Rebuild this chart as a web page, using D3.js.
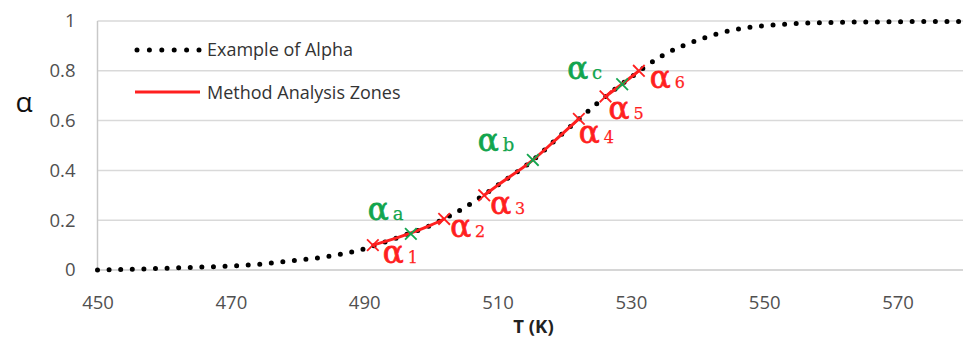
<!DOCTYPE html>
<html>
<head>
<meta charset="utf-8">
<script src="https://cdn.jsdelivr.net/npm/d3@7"></script>
<style>
  html, body { margin: 0; padding: 0; background: #fff; }
  svg { display: block; }
</style>
</head>
<body>
<svg id="chart" width="963" height="341"></svg>
<script>
// Conversion curve alpha(T)
const temps  = [450, 455, 460, 465, 470, 475, 480, 485, 490, 495, 500, 505, 510, 515, 520, 525, 530, 535, 540, 545, 550, 555, 560, 565, 570, 575, 580];
const alphas = [0.0, 0.003, 0.007, 0.011, 0.016, 0.025, 0.040, 0.056, 0.085, 0.13, 0.18, 0.25, 0.34, 0.435, 0.554, 0.67, 0.774, 0.865, 0.923, 0.962, 0.981, 0.99, 0.994, 0.996, 0.997, 0.998, 0.998];

// Analysis zone bounds (red) and zone mid points (green)
const zoneNames  = ["1", "2", "3", "4", "5", "6"];
const zoneTemps  = [491.3, 502.0, 508.0, 522.2, 526.2, 531.2];
const zoneAlphas = [0.10, 0.205, 0.30, 0.607, 0.697, 0.80];
const midNames   = ["a", "b", "c"];
const midTemps   = [497.0, 515.3, 528.7];
const midAlphas  = [0.145, 0.442, 0.746];

const xTicks = [450, 470, 490, 510, 530, 550, 570];
const yTicks = [0, 0.2, 0.4, 0.6, 0.8, 1];
const legendLabels = ["Example of Alpha", "Method Analysis Zones"];

const RED = "#ff1f1f", GREEN = "#12a54e", GRID = "#d9d9d9", AXIS_TXT = "#505050";

const svg = d3.select("#chart");
const x = d3.scaleLinear().domain([450, 580]).range([97.5, 964.2]);
const y = d3.scaleLinear().domain([0, 1]).range([270, 21]);

// gridlines
svg.append("g").selectAll("line").data(yTicks.filter(d => d > 0)).join("line")
  .attr("x1", x(450)).attr("x2", 963)
  .attr("y1", d => y(d)).attr("y2", d => y(d))
  .attr("stroke", GRID).attr("stroke-width", 1.5);

// axes lines
svg.append("line").attr("x1", x(450)).attr("x2", 963).attr("y1", y(0)).attr("y2", y(0))
  .attr("stroke", "#c8c8c8").attr("stroke-width", 1.5);
svg.append("line").attr("x1", x(450)).attr("x2", x(450)).attr("y1", y(1)).attr("y2", y(0))
  .attr("stroke", "#c8c8c8").attr("stroke-width", 1.5);

// tick labels via axes
const xAxis = svg.append("g").attr("transform", `translate(0,${y(0)})`)
  .call(d3.axisBottom(x).tickValues(xTicks).tickSize(0).tickPadding(26).tickFormat(d3.format("d")));
xAxis.select(".domain").remove();
xAxis.selectAll("text").attr("font-family", "Open Sans").attr("font-size", 18.5).attr("fill", AXIS_TXT);

const yAxis = svg.append("g").attr("transform", `translate(${x(450)},0)`)
  .call(d3.axisLeft(y).tickValues(yTicks).tickSize(0).tickPadding(22).tickFormat(d => d3.format("~g")(d)));
yAxis.select(".domain").remove();
yAxis.selectAll("text").attr("font-family", "Open Sans").attr("font-size", 18.5).attr("fill", AXIS_TXT);

// axis titles
svg.append("text").attr("x", 533.5).attr("y", 333).attr("text-anchor", "middle")
  .attr("font-family", "Open Sans").attr("font-weight", "bold").attr("font-size", 18.5).attr("fill", "#222")
  .text("T (K)");
svg.append("text").attr("x", 24).attr("y", 112).attr("text-anchor", "middle")
  .attr("font-family", "Open Sans").attr("font-size", 28).attr("fill", "#111")
  .text("α");

// dotted conversion curve
const curvePts = temps.map((t, i) => [t, alphas[i]]);
const line = d3.line().x(d => x(d[0])).y(d => y(d[1])).curve(d3.curveMonotoneX);
svg.append("path").datum(curvePts).attr("d", line)
  .attr("fill", "none").attr("stroke", "#000").attr("stroke-width", 5)
  .attr("stroke-linecap", "round").attr("stroke-dasharray", "0 11.6");

// red analysis zones: α1-α2, α3-α4, α5-α6
for (let k = 0; k < zoneTemps.length; k += 2) {
  const t0 = zoneTemps[k], t1 = zoneTemps[k + 1];
  const pts = [[t0, zoneAlphas[k]]]
    .concat(curvePts.filter(p => p[0] > t0 + 0.5 && p[0] < t1 - 0.5))
    .concat([[t1, zoneAlphas[k + 1]]]);
  svg.append("path").datum(pts).attr("d", line)
    .attr("fill", "none").attr("stroke", RED).attr("stroke-width", 3);
}

function cross(cx, cy, color) {
  const s = 5.8;
  const g = svg.append("g").attr("stroke", color).attr("stroke-width", 1.8);
  g.append("line").attr("x1", cx - s).attr("y1", cy - s).attr("x2", cx + s).attr("y2", cy + s);
  g.append("line").attr("x1", cx - s).attr("y1", cy + s).attr("x2", cx + s).attr("y2", cy - s);
}

// label placement relative to each marker
const zoneOffsets = [[10, 18], [6, 18], [6, 19], [0, 24], [3, 23], [11, 17]];
const midOffsets  = [[-43, -14], [-55, -9], [-55, -5]];

function alphaLabel(px, py, sub, color, subFont) {
  const t = svg.append("text").attr("x", px).attr("y", py).attr("fill", color)
    .attr("stroke", color).attr("font-family", "DejaVu Serif");
  t.append("tspan").attr("font-size", 31).attr("stroke-width", 0.8).text("α");
  t.append("tspan").attr("font-size", subFont).attr("stroke-width", 0.25).attr("dx", 4).text(sub);
}

zoneTemps.forEach((t, i) => {
  const px = x(t), py = y(zoneAlphas[i]);
  cross(px, py, RED);
  alphaLabel(px + zoneOffsets[i][0], py + zoneOffsets[i][1], zoneNames[i], RED, 16);
});
midTemps.forEach((t, i) => {
  const px = x(t), py = y(midAlphas[i]);
  cross(px, py, GREEN);
  alphaLabel(px + midOffsets[i][0], py + midOffsets[i][1], midNames[i], GREEN, 18);
});

// legend
const lg = svg.append("g");
lg.append("line").attr("x1", 137).attr("x2", 199.5).attr("y1", 50).attr("y2", 50)
  .attr("stroke", "#000").attr("stroke-width", 5).attr("stroke-linecap", "round")
  .attr("stroke-dasharray", "0 12.4");
lg.append("line").attr("x1", 135).attr("x2", 200).attr("y1", 92).attr("y2", 92)
  .attr("stroke", RED).attr("stroke-width", 3);
lg.selectAll("text").data(legendLabels).join("text")
  .attr("x", 207).attr("y", (d, i) => i === 0 ? 56 : 99)
  .attr("font-family", "Open Sans").attr("font-size", 18).attr("fill", "#333")
  .text(d => d);
</script>
</body>
</html>
